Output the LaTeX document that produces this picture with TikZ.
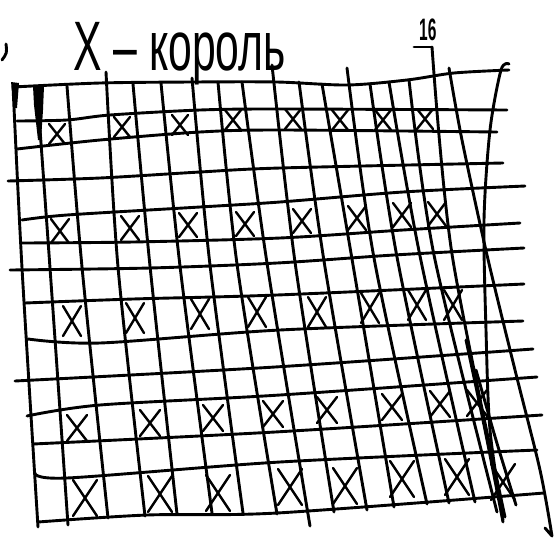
\documentclass[tikz,border=0pt]{standalone}
\usepackage{graphicx}
\usepackage{fontspec}
\setmainfont{Liberation Sans}
\begin{document}
\begin{tikzpicture}[x=1pt,y=-1pt,pen/.style={line width=2.9pt,line cap=round,line join=round},xmark/.style={line width=2.4pt,line cap=round},lbl/.style={inner sep=0pt,anchor=base west}]
\useasboundingbox (0,0) rectangle (554,539);
% heading
\node[lbl] (title) at (73,70) {\scalebox{0.61}[1]{\fontsize{70}{70}\selectfont X – король}};
\node[lbl] (num) at (419,40) {\scalebox{0.5}[1]{\fontsize{31}{31}\selectfont\bfseries 16}};
\draw[pen] (6,44) .. controls (7,53) .. (2,60);
\draw[pen] (414,47) -- (432,47);
% horizontal lines
\draw[pen] plot[smooth] coordinates {(13,87) (100,83) (192,82) (277,82) (347,85) (407,80) (454,73) (509,70)};
\draw[pen] plot[smooth] coordinates {(17,121) (67,120) (110,115) (200,110) (280,109) (507,110)};
\draw[pen] plot[smooth] coordinates {(17,149) (100,140) (200,132) (280,130) (497,132)};
\draw[pen] plot[smooth] coordinates {(8,181) (100,178) (200,172) (280,168) (503,163)};
\draw[pen] plot[smooth] coordinates {(22,220) (67,215) (200,207) (280,202) (403,192) (525,186)};
\draw[pen] plot[smooth] coordinates {(22,243) (133,242) (280,238) (403,230) (520,223)};
\draw[pen] plot[smooth] coordinates {(10,270) (150,268) (277,263) (394,255) (524,248)};
\draw[pen] plot[smooth] coordinates {(25,303) (133,299) (277,295) (524,284)};
\draw[pen] plot[smooth] coordinates {(28,339) (100,343) (280,330) (523,321)};
\draw[pen] plot[smooth] coordinates {(15,381) (275,367) (533,349)};
\draw[pen] plot[smooth] coordinates {(27,416) (100,405) (280,395) (537,377)};
\draw[pen] plot[smooth] coordinates {(33,444) (275,432) (542,415)};
\draw[pen] plot[smooth] coordinates {(35,473) (67,478) (280,462) (537,450)};
\draw[pen] plot[smooth] coordinates {(38,522) (147,515) (277,513) (544,493)};
% vertical lines
\foreach \a/\b/\c/\d/\e/\f in {13/86/22/268/38/527,37/88/50/268/68/525,67/86/82/267/108/518,106/72/118/267/145/516,133/84/150/266/177/514,161/83/180/266/212/513,192/78/210/265/243/513,218/82/237/264/277/514,242/82/267/263/310/526,272/65/295/262/334/512,299/82/324/261/367/510,322/84/352/259/394/507,347/68/374/258/427/504,370/84/397/257/449/503,389/82/420/256/475/502,409/80/434/255/497/512,432/47/452/254/505/517}
  \draw[pen] plot[smooth] coordinates {(\a,\b) (\c,\d) (\e,\f)};
\draw[pen] plot[smooth] coordinates {(449,68) (462,140) (487,255) (515,370) (540,470) (552,536)} -- (545,528);
\draw[pen] plot[smooth] coordinates {(509,64) (501,70) (490,130) (484,220) (486,330) (490,430) (503,520)};
\draw[pen] plot[smooth] coordinates {(466,340) (485,430) (503,522)};
\draw[pen] plot[smooth] coordinates {(476,370) (496,440) (516,505)};
% heavy marks top left
\fill (11,82) -- (19,83) -- (17,108) -- (14,108) -- cycle;
\fill (33,86) -- (44,86) -- (43,110) -- (41,140) -- (38,140) -- (34,105) -- cycle;
% kings
\foreach \cx/\cy/\w/\h in {57/134/8/10,122/127/8/10,180/125/8/10,233/120/8/10,293/119/8/10,340/120/8/10,383/120/8/10,425/119/8/10,
  60/231/9/12,130/228/9/12,188/225/9/12,245/224/9/12,302/221/9/12,357/218/9/12,402/215/9/12,437/214/9/12,
  72/321/9/15,135/318/9/15,200/314/9/15,257/312/9/15,317/312/9/15,370/308/9/15,417/305/9/15,453/305/9/15,
  77/428/10/13,150/423/10/13,213/418/10/13,273/414/10/13,327/410/10/13,392/407/10/13,440/404/10/13,477/403/10/13,
  85/498/12/18,160/494/12/18,218/493/12/18,290/487/12/18,345/486/12/18,402/479/12/18,457/477/12/18,503/482/12/18}
  \draw[xmark] (\cx-\w,\cy-\h) -- (\cx+\w,\cy+\h) (\cx+\w,\cy-\h) -- (\cx-\w,\cy+\h);
\end{tikzpicture}
\end{document}
